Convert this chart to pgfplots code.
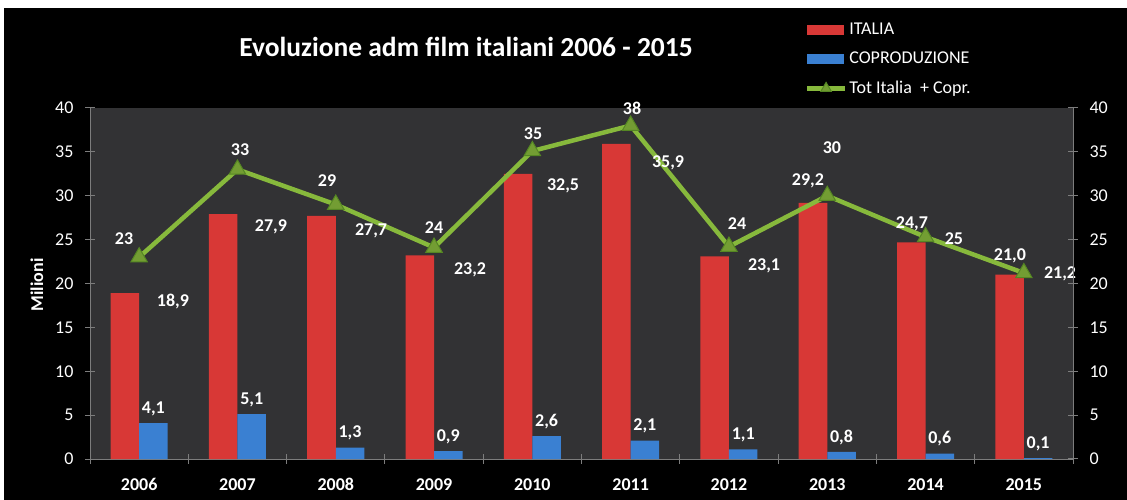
\documentclass[border=0pt]{standalone}
\usepackage{fontspec}
\setmainfont{Carlito}
\usepackage{pgfplots}
\pgfplotsset{compat=1.18}
\definecolor{plotbg}{RGB}{50,50,52}
\definecolor{axgray}{RGB}{125,125,125}
\definecolor{redbar}{RGB}{216,56,54}
\definecolor{bluebar}{RGB}{58,128,210}
\definecolor{lgreen}{RGB}{135,185,60}
\definecolor{dgreen}{RGB}{85,135,35}
\newcommand\lbl{\fontsize{18bp}{21bp}\selectfont\bfseries}
\newcommand\tkf{\fontsize{18bp}{21bp}\selectfont}
\pgfplotsset{/pgf/number format/assume math mode=true}
\begin{document}
\begin{tikzpicture}
\useasboundingbox (0,0) rectangle (1127bp,500bp);
\fill[white] (0,0) rectangle (1127bp,500bp);
\fill[black] (4bp,0) rectangle (1127bp,492bp);
\begin{axis}[
  at={(90bp,41bp)}, anchor=south west,
  scale only axis, width=983bp, height=351bp,
  xmin=-0.5, xmax=9.5, ymin=0, ymax=40,
  clip=false,
  axis background/.style={fill=plotbg},
  axis x line*=bottom, axis y line*=left,
  axis line style={-, draw=axgray, line width=1bp},
  xtick={0,...,9},
  xticklabels={2006,2007,2008,2009,2010,2011,2012,2013,2014,2015},
  minor xtick={-0.5,0.5,...,9.5},
  major x tick style={draw=none},
  minor tick length=10bp,
  ytick={0,5,...,40},
  major tick length=10bp,
  tick align=center,
  tick style={draw=axgray, line width=1bp},
  xticklabel style={text=white, font=\lbl, yshift=-11bp},
  yticklabel style={text=white, font=\tkf, xshift=-8bp},
  ylabel={Milioni},
  every axis y label/.style={at={(axis description cs:-0.054,0.496)}, rotate=90, anchor=center, text=white, font=\lbl},
  title={Evoluzione adm film italiani 2006 - 2015},
  title style={at={(axis description cs:0.3825,1.158)}, anchor=center, text=white, font=\fontsize{27.5bp}{32bp}\selectfont\bfseries},
  legend style={draw=none, fill=none, text=white, font=\tkf,
    at={(axis description cs:0.727,1.248)}, anchor=north west,
    row sep=12bp, inner sep=0pt},
  legend cell align=left,
]
\addplot[ybar, bar width=0.29, bar shift=-0.145, draw=none, fill=redbar,
  legend image code/.code={\fill[redbar] (0bp,-5bp) rectangle (37bp,5bp);}]
  coordinates {(0,18.9) (1,27.9) (2,27.7) (3,23.2) (4,32.5) (5,35.9) (6,23.1) (7,29.2) (8,24.7) (9,21.0)};
\addlegendentry{ITALIA}
\addplot[ybar, bar width=0.29, bar shift=0.145, draw=none, fill=bluebar,
  nodes near coords,
  nodes near coords style={text=white, font=\lbl, yshift=4bp, xshift=14.25bp,
    /pgf/number format/.cd, fixed, fixed zerofill, precision=1, use comma},
  legend image code/.code={\fill[bluebar] (0bp,-5bp) rectangle (37bp,5bp);}]
  coordinates {(0,4.1) (1,5.1) (2,1.3) (3,0.9) (4,2.6) (5,2.1) (6,1.1) (7,0.8) (8,0.6) (9,0.1)};
\addlegendentry{COPRODUZIONE}
\addplot[lgreen, line width=4.5bp, mark=triangle*, mark size=9.5bp,
  mark options={fill=lgreen!85!black, draw=dgreen, line width=1bp},
  legend image code/.code={\draw[lgreen, line width=4.5bp, mark=triangle*, mark size=6bp,
    mark options={fill=lgreen!85!black, draw=dgreen, line width=1bp},
    mark repeat=2, mark phase=2] plot coordinates {(0bp,0bp) (19bp,0bp) (38bp,0bp)};}]
  coordinates {(0,23.0) (1,33.0) (2,29.0) (3,24.1) (4,35.1) (5,38.0) (6,24.2) (7,30.0) (8,25.3) (9,21.2)};
\addlegendentry{Tot Italia\ \ + Copr.}
% labels of ITALIA
\addplot[forget plot, only marks, mark=none, nodes near coords, point meta=explicit symbolic,
  nodes near coords style={anchor=center, text=white, font=\lbl}]
  table[meta=t] {
x y t
0.344 17.9 18,9
1.341 26.5 27,9
2.359 26.0 27,7
3.366 21.6 23,2
4.312 31.1 32,5
5.380 33.7 35,9
6.357 22.0 23,1
6.804 31.7 29,2
7.862 26.8 24,7
8.859 23.1 21,0
};
% labels of totals
\addplot[forget plot, only marks, mark=none, nodes near coords, point meta=explicit symbolic,
  nodes near coords style={anchor=center, text=white, font=\lbl}]
  table[meta=t] {
x y t
-0.154 25.1 23
1.026 35.3 33
1.911 31.7 29
3.0 26.4 24
4.007 37.1 35
5.014 40.0 38
6.082 26.8 24
7.048 35.5 30
8.289 25.1 25
9.368 21.1 21,2
};
\end{axis}
\begin{axis}[
  at={(90bp,41bp)}, anchor=south west,
  scale only axis, width=983bp, height=351bp,
  xmin=-0.5, xmax=9.5, ymin=0, ymax=40,
  axis x line=none, axis y line*=right,
  axis line style={-, draw=axgray, line width=1bp},
  ytick={0,5,...,40},
  major tick length=10bp,
  tick align=center,
  tick style={draw=axgray, line width=1bp},
  yticklabel style={text=white, font=\tkf, xshift=8bp},
]
\addplot[draw=none, forget plot] coordinates {(0,0)};
\end{axis}
\end{tikzpicture}
\end{document}
